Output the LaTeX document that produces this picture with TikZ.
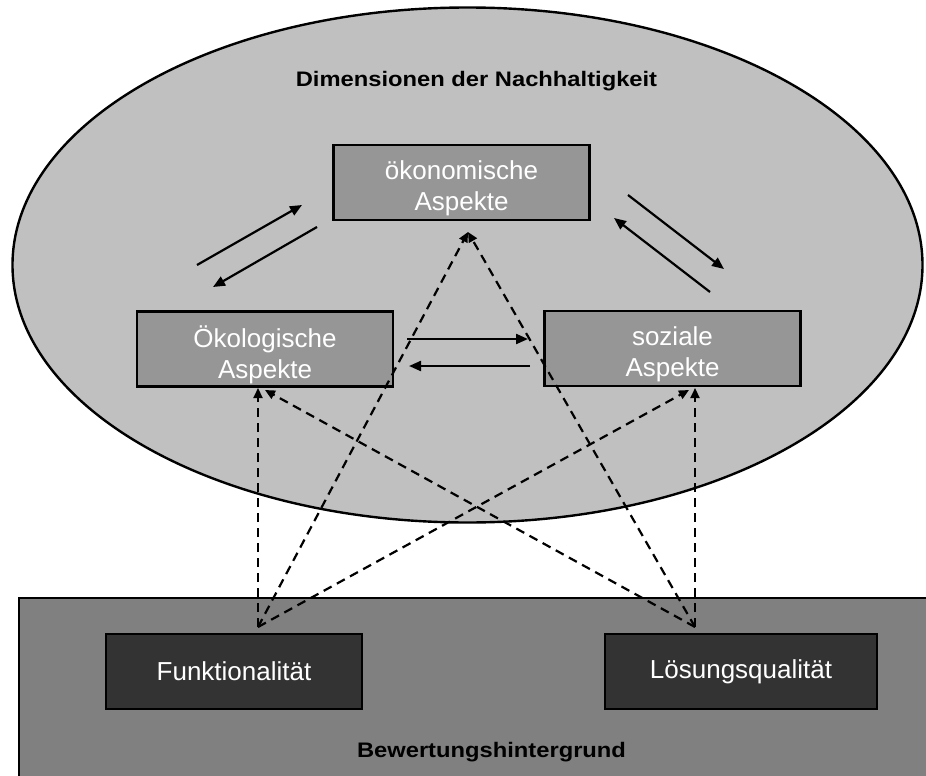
\documentclass[tikz,border=0pt]{standalone}
\usepackage{fontspec}
\usepackage{graphicx}
\setmainfont{Liberation Sans}
\usetikzlibrary{arrows.meta}
\definecolor{ellfill}{HTML}{C0C0C0}
\definecolor{aspectfill}{HTML}{969696}
\definecolor{basefill}{HTML}{808080}
\definecolor{critfill}{HTML}{333333}
\begin{document}
\begin{tikzpicture}[x=1pt,y=-1pt,
  aspect/.style={draw=black, line width=2.4pt, fill=aspectfill,
    minimum width=256pt, minimum height=75pt, inner sep=0pt},
  asptext/.style={text=white, align=center, inner sep=0pt,
    font=\fontsize{26}{31}\selectfont, yshift=-5.5pt},
  crit/.style={aspect, fill=critfill, text=white,
    font=\fontsize{26}{31}\selectfont},
  flow/.style={line width=2.2pt, -{Triangle[length=12pt,width=10pt]}},
  link/.style={line width=2.2pt, dash pattern=on 9pt off 6pt,
    -{Triangle[length=10pt,width=9pt]}},
  heading/.style={font=\fontsize{21}{25}\selectfont\bfseries, inner sep=0pt, anchor=base}]
\useasboundingbox (0,0) rectangle (926,776);
\clip (0,0) rectangle (926,776);

% sustainability dimensions
\draw[fill=ellfill, line width=2.4pt] (467.5,265) ellipse [x radius=455, y radius=257.5];
% evaluation background
\draw[fill=basefill, line width=2.4pt] (19,598) rectangle (940,790);

\node[heading] (title) at (476.5,86.7) {\scalebox{1.13}[1]{Dimensionen der Nachhaltigkeit}};
\node[heading] (base) at (491.5,757) {\scalebox{1.13}[1]{Bewertungshintergrund}};

\node[aspect, label={[asptext]center:ökonomische\\Aspekte}] (econ) at (461.5,182.5) {};
\node[aspect, label={[asptext]center:Ökologische\\Aspekte}] (ecol) at (265,349) {};
\node[aspect, label={[asptext]center:soziale\\Aspekte}] (soc) at (672.5,348.5) {};
\node[crit] (func) at (234,671.5) {Funktionalität};
\node[crit, minimum width=272pt] (sol) at (741,671.5) {Lösungsqualität};

% mutual influence between the aspects
\coordinate (a1s) at (197,265); \coordinate (a1e) at (302,205);
\coordinate (a2s) at (317,227); \coordinate (a2e) at (213,287);
\coordinate (a3s) at (628,195); \coordinate (a3e) at (724,269);
\coordinate (a4s) at (710,292); \coordinate (a4e) at (614,218);
\coordinate (a5s) at (407,339); \coordinate (a5e) at (528,339);
\coordinate (a6s) at (530,366); \coordinate (a6e) at (409,366);
\draw[flow] (a1s) -- (a1e);
\draw[flow] (a2s) -- (a2e);
\draw[flow] (a3s) -- (a3e);
\draw[flow] (a4s) -- (a4e);
\draw[flow] (a5s) -- (a5e);
\draw[flow] (a6s) -- (a6e);

% evaluation criteria acting on every aspect
\coordinate (fTop) at (258,627);
\coordinate (lTop) at (695,627);
\coordinate (econIn) at (468,232);
\coordinate (ecolInV) at (258,388);
\coordinate (ecolInD) at (265,390);
\coordinate (socInV) at (695,388);
\coordinate (socInD) at (689,390);
\draw[link] (fTop) -- (ecolInV);
\draw[link] (fTop) -- (econIn);
\draw[link] (fTop) -- (socInD);
\draw[link] (lTop) -- (socInV);
\draw[link] (lTop) -- (econIn);
\draw[link] (lTop) -- (ecolInD);
\end{tikzpicture}
\end{document}
